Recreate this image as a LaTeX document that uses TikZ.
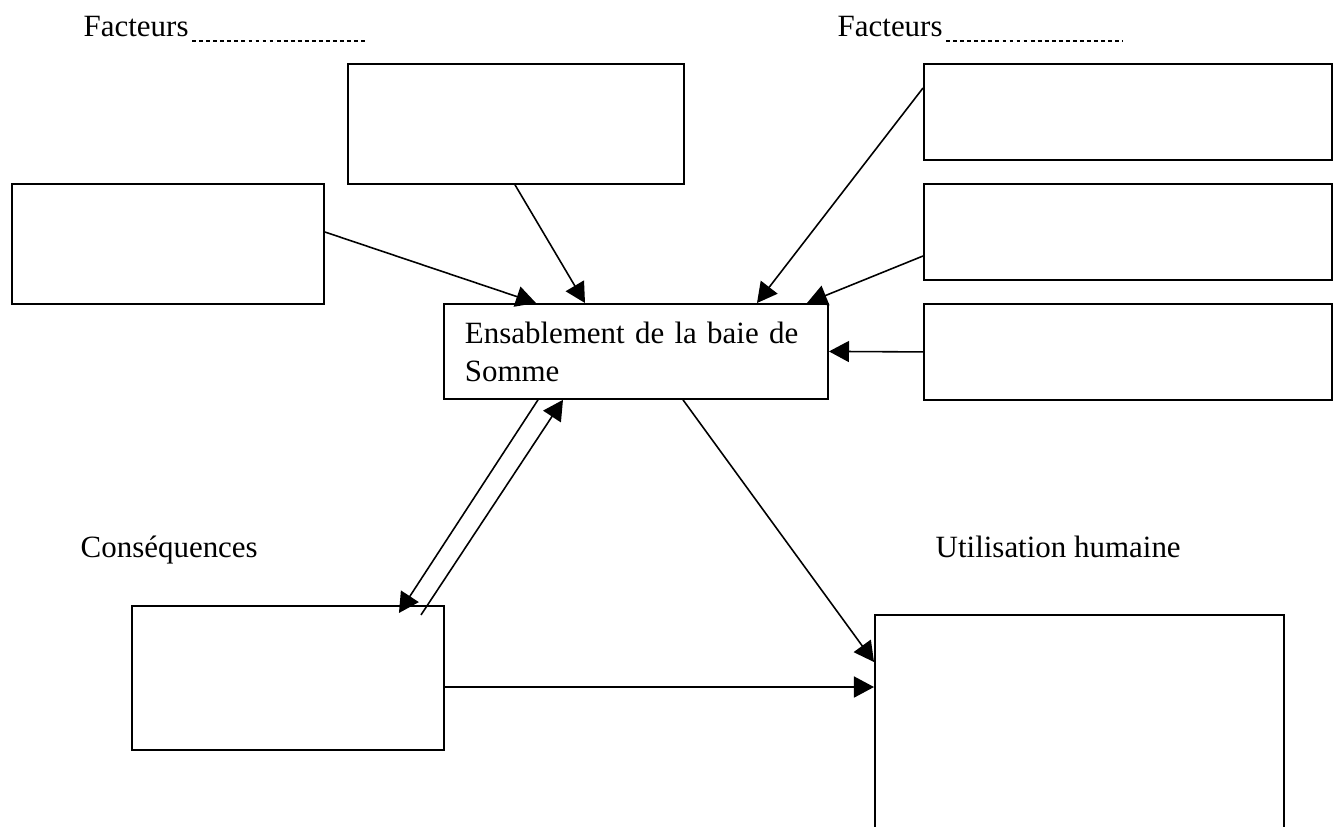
\documentclass[tikz,border=0pt]{standalone}
\usepackage{fontspec}
\setmainfont{Liberation Serif}
\usetikzlibrary{arrows.meta,calc}

\begin{document}
\begin{tikzpicture}[x=0.01cm, y=-0.01cm, >={Triangle[length=0.2cm, width=0.21cm]},
	boite/.style={draw, line width=0.5pt, inner sep=0pt, anchor=north west},
	titre/.style={anchor=base west, inner sep=0pt, font=\fontsize{8.8}{10.8}\selectfont},
	fleche/.style={->, line width=0.45pt},
	pointille/.style={line width=0.3pt, dash pattern=on 1.1pt off 0.9pt}]
		% Cadre de l'image
		\useasboundingbox (0,0) rectangle (1339,826);
		\clip (0,0) rectangle (1339,826);
		
		% Titres
		\node[titre] (fact1) at (83,36) {Facteurs};
		\node[titre] (fact2) at (837,36) {Facteurs};
		\node[titre] (csq) at (80,557) {Conséquences};
		\node[titre] (uhum) at (935,557) {Utilisation humaine};
		\draw[pointille] ($(fact1.base east)+(3,5)$) -- ++(173,0);
		\draw[pointille] ($(fact2.base east)+(3,5)$) -- ++(177,0);
		
		% Cadres
		\node[boite, minimum width=3.36cm, minimum height=1.20cm] (haut) at (347,63) {};
		\node[boite, minimum width=3.12cm, minimum height=1.20cm] (gauche) at (11,183) {};
		\node[boite, minimum width=4.08cm, minimum height=0.96cm] (droite1) at (923,63) {};
		\node[boite, minimum width=4.08cm, minimum height=0.96cm] (droite2) at (923,183) {};
		\node[boite, minimum width=4.08cm, minimum height=0.96cm] (droite3) at (923,303) {};
		\node[boite, minimum width=3.84cm, minimum height=0.95cm, text width=3.42cm,
			align=left, font=\fontsize{8.8}{10.8}\selectfont] (centre) at (443,303)
			{Ensablement de la baie de\\Somme};
		\node[boite, minimum width=3.12cm, minimum height=1.44cm] (cons) at (131,605) {};
		\node[boite, minimum width=4.09cm, minimum height=3.00cm] (util) at (874,614) {};
		
		% Facteurs -> ensablement
		\draw[fleche] ($(gauche.north east)+(0,49)$) -- ($(centre.north west)+(93,0)$);
		\draw[fleche] ($(haut.south west)+(168,0)$) -- ($(centre.north west)+(142,0)$);
		\draw[fleche] ($(droite1.north west)+(0,25)$) -- ($(centre.north west)+(314,0)$);
		\draw[fleche] ($(droite2.north west)+(0,73)$) -- ($(centre.north east)+(-22,0)$);
		\draw[fleche] (droite3.west) -- (centre.east);
		
		% Conséquences et utilisation
		\draw[fleche] ($(centre.south west)+(95,0)$) -- ($(cons.north east)+(-46,8)$);
		\draw[fleche] ($(cons.north east)+(-24,10)$) -- ($(centre.south west)+(120,0)$);
		\draw[fleche] ($(centre.south west)+(240,0)$) -- ($(util.north west)+(0,48)$);
		\draw[fleche] ($(cons.north east)+(0,82)$) -- ($(util.north west)+(0,73)$);
		
\end{tikzpicture}
\end{document}
